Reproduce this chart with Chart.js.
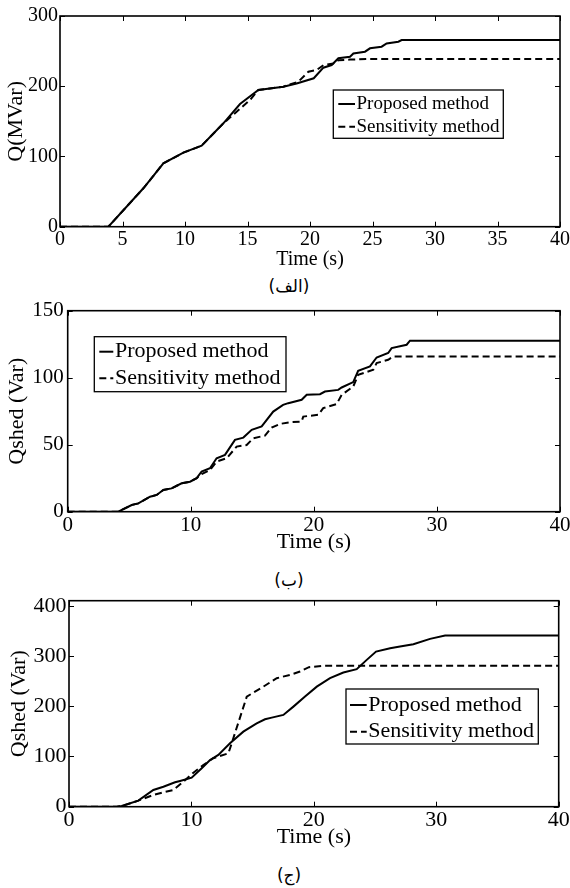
<!DOCTYPE html>
<html><head><meta charset="utf-8">
<script src="https://cdn.jsdelivr.net/npm/chart.js@4.4.0/dist/chart.umd.min.js"></script>
<style>
html,body{margin:0;padding:0;background:#fff;}
body{width:570px;height:888px;position:relative;overflow:hidden;}
canvas.c{position:absolute;left:0;}
.cap{position:absolute;left:189px;width:200px;text-align:center;font-family:'DejaVu Sans',sans-serif;font-size:17px;line-height:24px;color:#000;}
</style></head><body>
<canvas id="c1" class="c" style="top:0px" width="570" height="272"></canvas>
<div class="cap" dir="rtl" style="top:274px">(الف)</div>
<canvas id="c2" class="c" style="top:295px" width="570" height="268"></canvas>
<div class="cap" dir="rtl" style="top:568px">(ب)</div>
<canvas id="c3" class="c" style="top:590px" width="570" height="268"></canvas>
<div class="cap" dir="rtl" style="top:863px">(ج)</div>
<script>
const FONT = "'Liberation Serif','Times New Roman',serif";
const labelProposed = 'Proposed method';
const labelSensitivity = 'Sensitivity method';
const xTitle = 'Time (s)';
const yTitleA = 'Q(MVar)';
const yTitleB = 'Qshed (Var)';
const yTitleC = 'Qshed (Var)';

// Tick values
const a_xTicks = [0, 5, 10, 15, 20, 25, 30, 35, 40];
const a_yTicks = [0, 100, 200, 300];
const b_xTicks = [0, 10, 20, 30, 40];
const b_yTicks = [0, 50, 100, 150];
const c_xTicks = [0, 10, 20, 30, 40];
const c_yTicks = [0, 100, 200, 300, 400];

// Chart (a)
const a_t_prop = [0, 3.87, 6.67, 8.27, 9.87, 11.33, 13.07, 14.4, 15.87, 17.87, 18.93, 20.3, 21.07, 21.73, 22.27, 23.2, 23.47, 24.4, 24.8, 25.73, 26.13, 27.07, 27.33, 40];
const a_q_prop = [0, 0, 54.7, 90.2, 105.4, 115.4, 147.2, 174.7, 194.6, 199.4, 204, 211.3, 226.4, 230.2, 239.8, 242, 246.7, 249.2, 254, 256.3, 261, 263.4, 265.8, 265.8];
const a_t_sens = [0, 3.87, 6.67, 8.27, 9.87, 11.33, 13.07, 14.13, 15.2, 15.87, 17.87, 19.07, 19.87, 20.53, 21.07, 21.87, 22.27, 23.2, 24.8, 40];
const a_q_sens = [0, 0, 54.7, 90.2, 105.4, 115.4, 147.2, 163.8, 180.4, 194.6, 199.4, 206.5, 220.7, 223, 230, 232.4, 237, 238, 238.8, 238.8];

// Chart (b)
const b_t_prop = [0, 4.11, 5.2, 5.74, 6.69, 7.23, 7.77, 8.44, 9.26, 9.94, 10.48, 10.88, 11.56, 12.1, 12.78, 13.05, 13.59, 14.27, 14.95, 15.76, 16.7, 17.5, 17.92, 19.01, 19.42, 20.5, 20.9, 21.98, 22.26, 23.2, 23.6, 24.56, 25.1, 26.04, 26.32, 27.54, 27.81, 40];
const b_q_prop = [0, 0, 5, 6.2, 11.2, 12.5, 16.2, 17.4, 21.2, 22.4, 25, 30, 32.4, 39.9, 42.4, 46.1, 53.6, 55.3, 61.1, 63.6, 74.7, 79.7, 81, 83.5, 87.2, 87.7, 89.7, 90.9, 92.7, 96.7, 105.2, 108.4, 115.1, 118.4, 122.1, 124.6, 127.6, 127.6];
const b_t_sens = [0, 4.11, 5.2, 5.74, 6.69, 7.23, 7.77, 8.44, 9.26, 9.94, 10.48, 10.88, 11.56, 12.1, 12.92, 13.73, 14.54, 15.08, 16.03, 16.57, 17.25, 18.06, 19.0, 19.14, 20.36, 20.76, 21.85, 22.26, 23.2, 23.6, 24.83, 25.1, 26.04, 26.45, 40];
const b_q_sens = [0, 0, 5, 6.2, 11.2, 12.5, 16.2, 17.4, 21.2, 22.4, 25, 28, 31.2, 37.4, 39.9, 48.6, 49.8, 54.8, 56.8, 62.8, 65.5, 66.8, 67.3, 71, 72.3, 77.3, 80.3, 87.2, 93.4, 102.2, 105.9, 110.9, 113.4, 115.8, 115.8];

// Chart (c)
const c_t_prop = [0, 3.9, 4.3, 5.66, 6.89, 7.71, 8.66, 9.07, 10.02, 10.84, 11.52, 12.2, 13.15, 14.24, 15.33, 16.01, 16.56, 17.51, 18.33, 19.28, 20.24, 21.32, 22.41, 23.5, 24.32, 25.08, 26.23, 27.04, 28.13, 29.49, 30.72, 40];
const c_q_prop = [0, 0, 1.3, 12, 33.3, 39.8, 48.6, 51.3, 57.8, 76.5, 93, 103, 126.3, 149.4, 166, 174, 177.3, 182.7, 199.2, 219.1, 239, 255.8, 267, 273.7, 292.2, 308.8, 315.4, 318.7, 323.4, 334, 340.6, 340.6];
const c_t_sens = [0, 3.9, 4.3, 5.66, 6.89, 7.71, 8.52, 9.34, 10.16, 10.97, 11.79, 13.02, 13.29, 14.52, 15.88, 16.97, 18.06, 18.87, 19.6, 20.78, 40];
const c_q_sens = [0, 0, 1.3, 12, 23.3, 28.6, 33.3, 49.8, 67.7, 83, 96.4, 106.4, 126.3, 219.1, 239, 255.8, 262.4, 269, 277.7, 280.3, 280.3];

Chart.defaults.font.family = FONT;
Chart.defaults.color = '#000';

function pts(t, q) { return t.map((v, i) => ({ x: v, y: q[i] })); }

const framePlugin = {
  id: 'frameTicks',
  afterDatasetsDraw(chart) {
    const ctx = chart.ctx;
    const { left, right, top, bottom } = chart.chartArea;
    const xs = chart.scales.x, ys = chart.scales.y;
    ctx.save();
    ctx.strokeStyle = '#000';
    ctx.setLineDash([]);
    ctx.lineWidth = 1;
    ctx.beginPath();
    const L = 5;
    xs.ticks.forEach(t => {
      const p = Math.round(xs.getPixelForValue(t.value)) + 0.5;
      ctx.moveTo(p, bottom); ctx.lineTo(p, bottom - L);
      ctx.moveTo(p, top); ctx.lineTo(p, top + L);
    });
    ys.ticks.forEach(t => {
      const p = Math.round(ys.getPixelForValue(t.value)) + 0.5;
      ctx.moveTo(left, p); ctx.lineTo(left + L, p);
      ctx.moveTo(right, p); ctx.lineTo(right - L, p);
    });
    ctx.stroke();
    ctx.lineWidth = 1.6;
    ctx.strokeRect(left, top, right - left, bottom - top);
    ctx.restore();
  }
};

const legendPlugin = {
  id: 'boxLegend',
  afterDraw(chart, args, o) {
    const ctx = chart.ctx;
    ctx.save();
    ctx.fillStyle = '#fff';
    ctx.fillRect(o.x, o.y, o.w, o.h);
    ctx.strokeStyle = '#000';
    ctx.lineWidth = 1.3;
    ctx.strokeRect(o.x, o.y, o.w, o.h);
    chart.data.datasets.forEach((ds, i) => {
      const yy = o.rows[i];
      ctx.beginPath();
      ctx.setLineDash(ds.borderDash || []);
      ctx.lineWidth = ds.borderWidth;
      ctx.moveTo(o.s1, yy); ctx.lineTo(o.s2, yy);
      ctx.stroke();
      ctx.setLineDash([]);
      ctx.fillStyle = '#000';
      ctx.font = o.fs + 'px ' + FONT;
      ctx.textBaseline = 'middle';
      ctx.textAlign = 'left';
      ctx.fillText(ds.label, o.tx, yy);
    });
    ctx.restore();
  }
};

function buildChart(id, s) {
  return new Chart(document.getElementById(id), {
    type: 'line',
    data: {
      datasets: [
        { label: labelProposed, data: pts(s.tP, s.qP), borderColor: '#000', borderWidth: 2, pointRadius: 0, tension: 0, fill: false },
        { label: labelSensitivity, data: pts(s.tS, s.qS), borderColor: '#000', borderWidth: 2, borderDash: [7, 4], pointRadius: 0, tension: 0, fill: false }
      ]
    },
    options: {
      responsive: false, animation: false, devicePixelRatio: 1,
      layout: { padding: { left: 0, top: s.area.top, right: 570 - s.area.right, bottom: 0 } },
      plugins: { legend: { display: false }, tooltip: { enabled: false }, boxLegend: s.legend },
      scales: {
        x: {
          type: 'linear', min: 0, max: 40,
          grid: { display: false, drawTicks: false }, border: { display: false },
          ticks: { padding: s.xPad, font: { family: FONT, size: s.tickFs }, color: '#000', maxRotation: 0, autoSkip: false },
          afterBuildTicks(sc) { sc.ticks = s.xTicks.map(v => ({ value: v })); },
          title: { display: true, text: xTitle, color: '#000', font: { family: FONT, size: s.xTitleFs }, padding: { top: 0, bottom: s.xTitlePadB } },
          afterFit(sc) { sc.height = s.H - s.area.bottom; sc.paddingLeft = 0; sc.paddingRight = 0; }
        },
        y: {
          type: 'linear', min: s.yMin, max: s.yMax,
          grid: { display: false, drawTicks: false }, border: { display: false },
          ticks: { padding: s.yPad, font: { family: FONT, size: s.tickFs }, color: '#000', autoSkip: false },
          afterBuildTicks(sc) { sc.ticks = s.yTicks.map(v => ({ value: v })); },
          title: { display: true, text: s.yTitle, color: '#000', font: { family: FONT, size: s.yTitleFs }, padding: { top: s.yTitlePadT, bottom: 0 } },
          afterFit(sc) { sc.width = s.area.left; sc.paddingTop = 0; sc.paddingBottom = 0; }
        }
      }
    },
    plugins: [framePlugin, legendPlugin]
  });
}

buildChart('c1', {
  tP: a_t_prop, qP: a_q_prop, tS: a_t_sens, qS: a_q_sens,
  xTicks: a_xTicks, yTicks: a_yTicks,
  H: 272, area: { left: 60, right: 560, top: 16, bottom: 226.7 },
  yMin: 0, yMax: 300, yTitle: yTitleA,
  tickFs: 20, xTitleFs: 20, yTitleFs: 22, xPad: 1, yPad: 2, xTitlePadB: 0, yTitlePadT: 3.3,
  legend: { x: 333.3, y: 90, w: 170, h: 48.3, s1: 338.3, s2: 355, tx: 356.5, rows: [104, 126.7], fs: 19 }
});

buildChart('c2', {
  tP: b_t_prop, qP: b_q_prop, tS: b_t_sens, qS: b_q_sens,
  xTicks: b_xTicks, yTicks: b_yTicks,
  H: 268, area: { left: 67.7, right: 560, top: 15.7, bottom: 216.7 },
  yMin: 0, yMax: 150, yTitle: yTitleB,
  tickFs: 21, xTitleFs: 22, yTitleFs: 22, xPad: 1, yPad: 4, xTitlePadB: 8, yTitlePadT: 4.3,
  legend: { x: 94.3, y: 41.7, w: 191.7, h: 55, s1: 99.3, s2: 113.3, tx: 115, rows: [56.7, 83.3], fs: 22 }
});

buildChart('c3', {
  tP: c_t_prop, qP: c_q_prop, tS: c_t_sens, qS: c_q_sens,
  xTicks: c_xTicks, yTicks: c_yTicks,
  H: 268, area: { left: 69, right: 558.7, top: 10.7, bottom: 216.7 },
  yMin: 0, yMax: 410, yTitle: yTitleC,
  tickFs: 22, xTitleFs: 22, yTitleFs: 22, xPad: 0, yPad: 2.5, xTitlePadB: 8, yTitlePadT: 5.8,
  legend: { x: 346, y: 99, w: 192.3, h: 55, s1: 350, s2: 366.7, tx: 368.3, rows: [115, 141.7], fs: 22 }
});
</script>
</body></html>
